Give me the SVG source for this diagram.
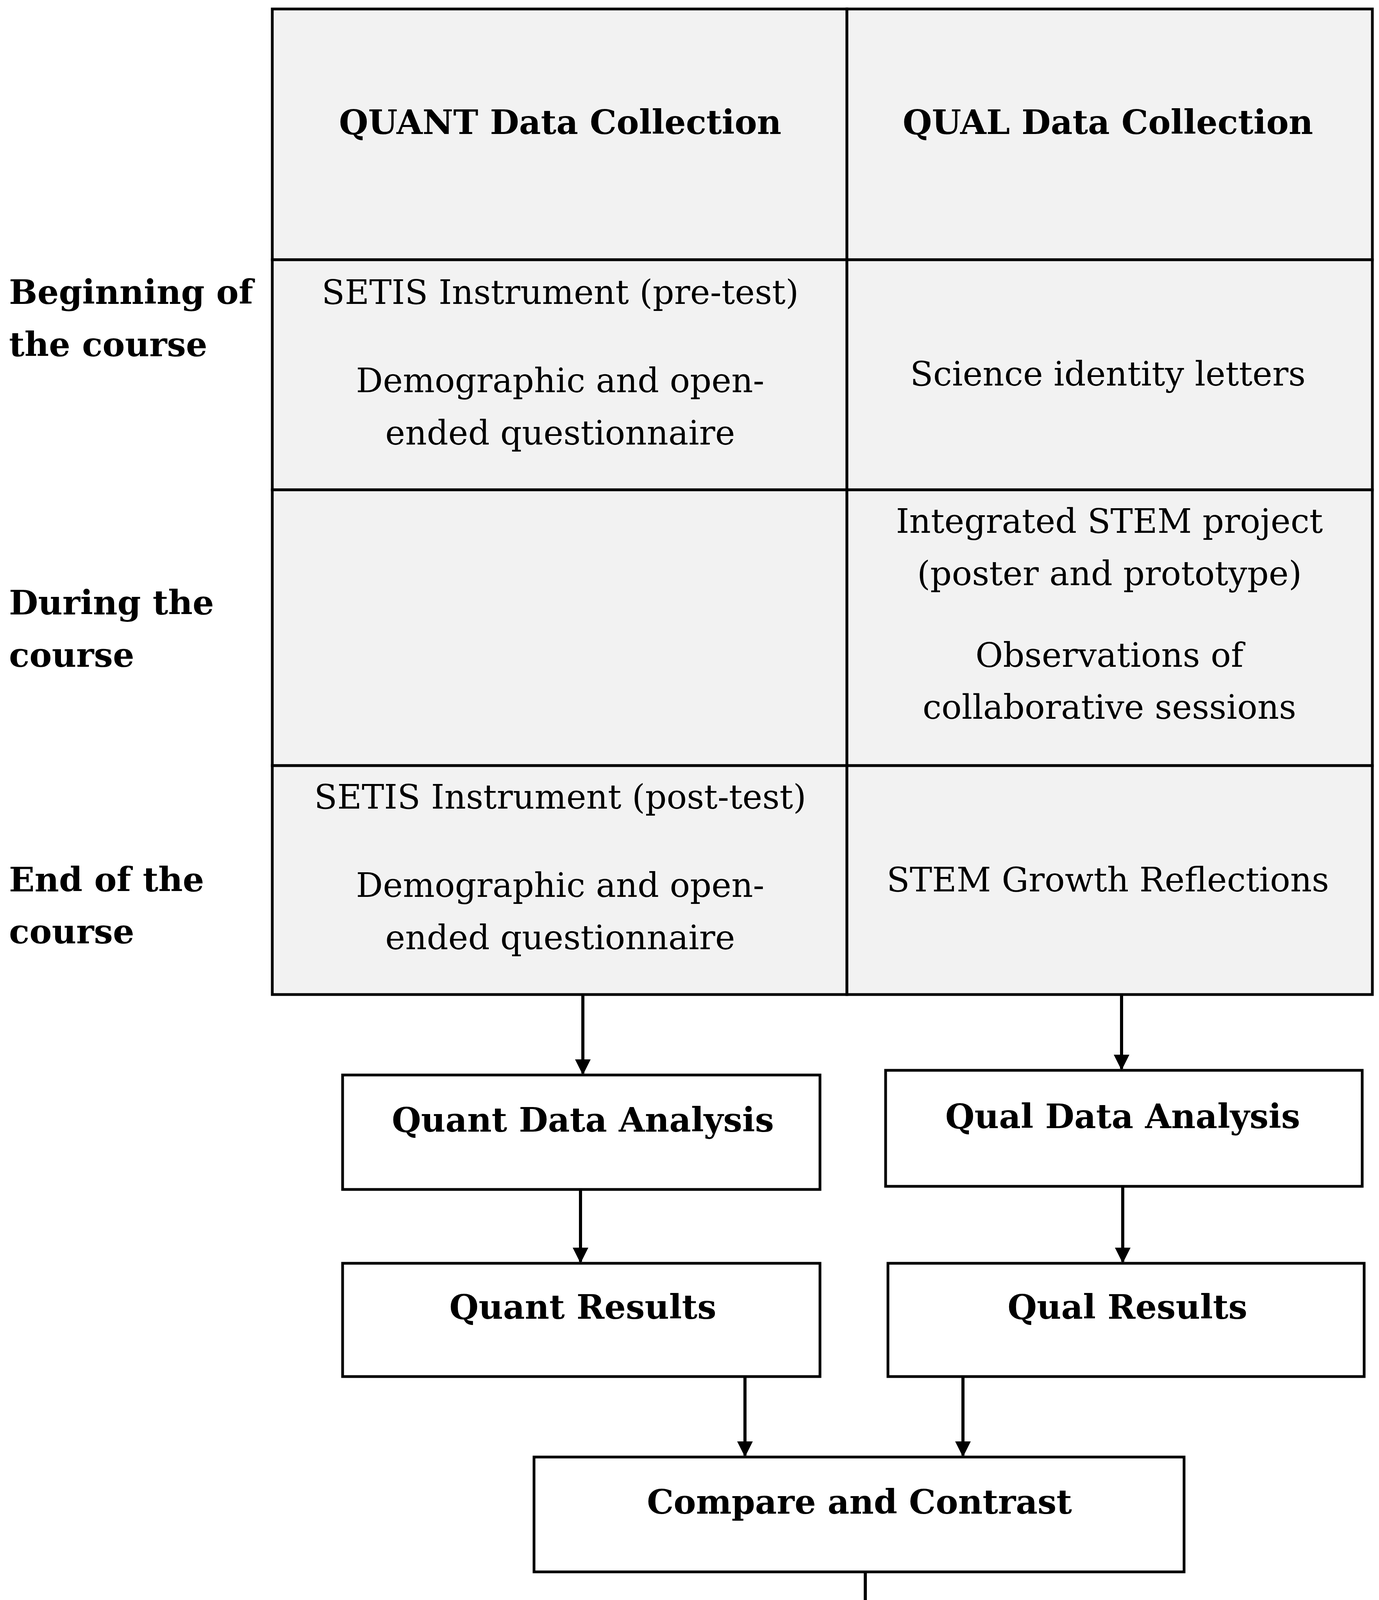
<svg xmlns="http://www.w3.org/2000/svg" width="3530" height="4541" viewBox="0 0 3530 4541">
<style>
.t{font-family:"DejaVu Serif","Liberation Serif",serif;font-size:86px;fill:#000}
.b{font-weight:bold}
.c{text-anchor:middle}
.box{fill:#fff;stroke:#000;stroke-width:7}
.cell{fill:#f2f2f2;stroke:#000;stroke-width:7}
.ln{stroke:#000;stroke-width:8;fill:none}
</style>
<defs><marker id="ah" viewBox="0 0 10 10" refX="9" refY="5" markerWidth="5" markerHeight="5" orient="auto" markerUnits="strokeWidth"><path d="M0,0L10,5L0,10z" fill="#000"/></marker></defs>
<rect width="3530" height="4541" fill="#fff"/>
<g id="table">
<rect class="cell" x="697" y="23" width="1471" height="642"/>
<rect class="cell" x="2168" y="23" width="1345" height="642"/>
<rect class="cell" x="697" y="665" width="1471" height="589"/>
<rect class="cell" x="2168" y="665" width="1345" height="589"/>
<rect class="cell" x="697" y="1254" width="1471" height="706"/>
<rect class="cell" x="2168" y="1254" width="1345" height="706"/>
<rect class="cell" x="697" y="1960" width="1471" height="586"/>
<rect class="cell" x="2168" y="1960" width="1345" height="586"/>
<text class="t b c" x="1434" y="343">QUANT Data Collection</text>
<text class="t b c" x="2836" y="343">QUAL Data Collection</text>
<text class="t b" x="23" y="778">Beginning of</text>
<text class="t b" x="23" y="912">the course</text>
<text class="t b" x="23" y="1573">During the</text>
<text class="t b" x="23" y="1707">course</text>
<text class="t b" x="23" y="2282">End of the</text>
<text class="t b" x="23" y="2415">course</text>
<text class="t c" x="1434" y="778">SETIS Instrument (pre-test)</text>
<text class="t c" x="1434" y="1004">Demographic and open-</text>
<text class="t c" x="1434" y="1138">ended questionnaire</text>
<text class="t c" x="2836" y="987">Science identity letters</text>
<text class="t c" x="2840" y="1364">Integrated STEM project</text>
<text class="t c" x="2840" y="1498">(poster and prototype)</text>
<text class="t c" x="2840" y="1707">Observations of</text>
<text class="t c" x="2840" y="1840">collaborative sessions</text>
<text class="t c" x="1434" y="2070">SETIS Instrument (post-test)</text>
<text class="t c" x="1434" y="2296">Demographic and open-</text>
<text class="t c" x="1434" y="2430">ended questionnaire</text>
<text class="t c" x="2836" y="2282">STEM Growth Reflections</text>
</g>
<g id="quant-analysis"><rect class="box" x="877" y="2752" width="1222" height="293"/><text class="t b c" x="1492" y="2897">Quant Data Analysis</text></g>
<g id="qual-analysis"><rect class="box" x="2267" y="2740" width="1220" height="297"/><text class="t b c" x="2874" y="2888">Qual Data Analysis</text></g>
<g id="quant-results"><rect class="box" x="877" y="3234" width="1222" height="290"/><text class="t b c" x="1492" y="3376">Quant Results</text></g>
<g id="qual-results"><rect class="box" x="2273" y="3234" width="1219" height="290"/><text class="t b c" x="2886" y="3376">Qual Results</text></g>
<g id="compare"><rect class="box" x="1367" y="3730" width="1664" height="294"/><text class="t b c" x="2200" y="3875">Compare and Contrast</text></g>
<g id="interpretation"><rect class="box" x="1370" y="4224" width="1661" height="293"/><text class="t b c" x="2198" y="4331">Interpretation (QUAN</text><text class="t b c" x="2210" y="4465">+QUAL)</text></g>
<g id="connectors">
<line class="ln" x1="1492" y1="2546" x2="1492" y2="2748" marker-end="url(#ah)"/>
<line class="ln" x1="2871" y1="2546" x2="2871" y2="2736" marker-end="url(#ah)"/>
<line class="ln" x1="1486" y1="3045" x2="1486" y2="3230" marker-end="url(#ah)"/>
<line class="ln" x1="2874" y1="3037" x2="2874" y2="3230" marker-end="url(#ah)"/>
<line class="ln" x1="1907" y1="3524" x2="1907" y2="3726" marker-end="url(#ah)"/>
<line class="ln" x1="2465" y1="3524" x2="2465" y2="3726" marker-end="url(#ah)"/>
<line class="ln" x1="2215" y1="4024" x2="2215" y2="4220" marker-end="url(#ah)"/>
</g>
</svg>
